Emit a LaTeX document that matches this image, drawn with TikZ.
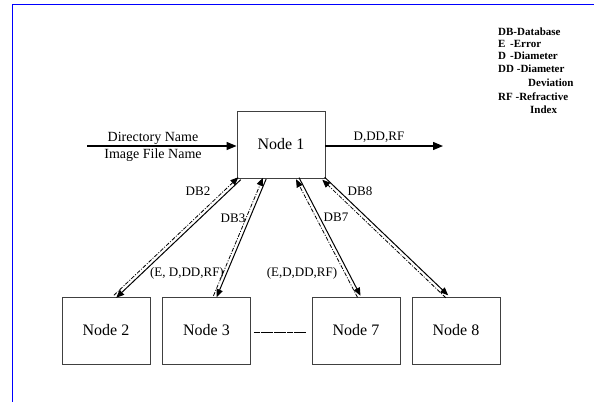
\documentclass[tikz,border=0pt]{standalone}
\usepackage{fontspec}
\setmainfont{Liberation Serif}
\usetikzlibrary{arrows.meta,calc}
\begin{document}
\begin{tikzpicture}[x=1pt,y=-1pt,
  box/.style={draw=black!75,line width=0.9pt,minimum width=88pt,minimum height=67pt,
    inner sep=0pt,font=\fontsize{16}{18}\selectfont},
  lbl/.style={inner sep=0pt,font=\fontsize{13}{15}\selectfont},
  legend/.style={inner sep=0pt,anchor=west,font=\fontsize{11}{13}\selectfont\bfseries},
  mainarrow/.style={line width=1.3pt,-{Triangle[length=10pt,width=8pt]}},
  down/.style={line width=1pt,-{Triangle[length=8pt,width=6.5pt]}},
  up/.style={line width=0.8pt,dash pattern=on 4pt off 1.5pt on 1pt off 1.5pt,
    -{Triangle[length=8pt,width=6.5pt]}},
  frame/.style={draw=blue,line width=1pt}]
\useasboundingbox (0,0) rectangle (594,402);
\fill[white] (0,0) rectangle (594,402);
% page frame
\draw[frame] (594,4) -- (12,4) -- (12,402);

% nodes
\node[box] (n1) at (281,144.5) {Node 1};
\node[box] (n2) at (106,330.5) {Node 2};
\node[box] (n3) at (206.5,330.5) {Node 3};
\node[box] (n7) at (356,330.5) {Node 7};
\node[box] (n8) at (456,330.5) {Node 8};

% input and output of Node 1
\coordinate (in) at (87,146);
\coordinate (out) at (443,146);
\draw[mainarrow] (in) -- (n1.west |- in);
\draw[mainarrow] (n1.east |- in) -- (out);
\node[lbl,font=\fontsize{14}{16}\selectfont] (dn) at (153,138) {Directory Name};
\node[lbl,font=\fontsize{14}{16}\selectfont] (ifn) at (153,155) {Image File Name};
\node[lbl] (res) at (379,137) {D,DD,RF};

% attachment points
\coordinate (t2) at ([xshift=3pt]n1.south west);
\coordinate (t3) at ([xshift=28pt]n1.south west);
\coordinate (t7) at ([xshift=61pt]n1.south west);
\coordinate (t8) at ([xshift=-2pt]n1.south east);
\coordinate (b2) at ([xshift=9pt]n2.north);
\coordinate (b3) at ([xshift=8.5pt]n3.north);
\coordinate (b7) at ([xshift=3pt]n7.north);
\coordinate (b8) at ([xshift=-9pt]n8.north);

% paired links: request down (solid), reply up (dash-dot)
\foreach \k in {2,3,7,8}{
  \draw[down] ($(t\k)!1.7pt!90:(b\k)$) -- ($(b\k)!1.7pt!-90:(t\k)$);
  \draw[up] ($(b\k)!1.7pt!90:(t\k)$) -- ($(t\k)!1.7pt!-90:(b\k)$);
}

% link between Node 3 and Node 7
\draw[line width=1pt,dash pattern=on 6pt off 0.6pt] ([xshift=3pt]n3.east |- 0,332) -- ([xshift=-5pt]n7.west |- 0,332);

% link labels
\node[lbl] (db2) at (198,191) {DB2};
\node[lbl] (db3) at (233,218) {DB3};
\node[lbl] (db7) at (336,217) {DB7};
\node[lbl] (db8) at (360,191) {DB8};
\node[lbl] (r3) at (187,273) {(E, D,DD,RF)};
\node[lbl] (r7) at (302,273) {(E,D,DD,RF)};

% legend
\node[legend] (l1) at (498,32) {DB-Database};
\node[legend] (l2) at (498,44) {E};
\node[legend] (l2b) at (510,44) {-Error};
\node[legend] (l3) at (498,56) {D};
\node[legend] (l3b) at (510,56) {-Diameter};
\node[legend] (l4) at (498,69) {DD -Diameter};
\node[legend] (l4b) at (528,83) {Deviation};
\node[legend] (l5) at (498,97) {RF -Refractive};
\node[legend] (l5b) at (530,110) {Index};
\end{tikzpicture}
\end{document}
